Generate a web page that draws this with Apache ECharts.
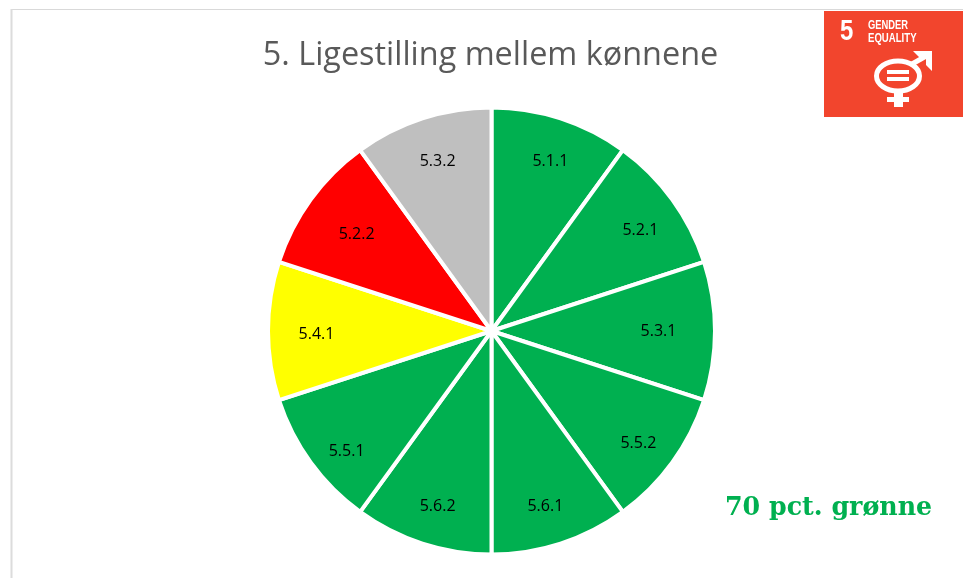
<!DOCTYPE html>
<html><head><meta charset="utf-8">
<style>html,body{margin:0;padding:0;background:#fff}#c{width:963px;height:578px}</style>
<script src="https://cdn.jsdelivr.net/npm/echarts@6/dist/echarts.min.js"></script>
</head><body><div id="c"></div>
<script>
const titleText = '5. Ligestilling mellem kønnene';
const noteText = '70 pct. grønne';
const categories = ['5.1.1','5.2.1','5.3.1','5.5.2','5.6.1','5.6.2','5.5.1','5.4.1','5.2.2','5.3.2'];
const values = [1,1,1,1,1,1,1,1,1,1];
const statuses = ['g','g','g','g','g','g','g','y','r','n'];
const statusColors = {g:'#00B050',y:'#FFFF00',r:'#FF0000',n:'#BFBFBF'};
const labelShift = {'5.1.1':[2,5],'5.2.1':[0,8],'5.3.1':[-17,0],'5.5.2':[-2,4],'5.6.1':[-3,0],'5.6.2':[3,0],'5.5.1':[4,12],'5.4.1':[9,3],'5.2.2':[14,12],'5.3.2':[3,5]};
const center = [491.5,331];
const chart = echarts.init(document.getElementById('c'),null,{renderer:'canvas'});
const white = '#fff', red = '#F2452D';
chart.setOption({
  animation:false,
  title:{text:titleText,left:485.5,top:35,textAlign:'center',
    textStyle:{fontFamily:'Open Sans',fontWeight:'normal',fontSize:32.4,color:'#595959'}},
  series:[
    {type:'pie',center,radius:[0,223.5],startAngle:90,silent:true,label:{show:false},labelLine:{show:false},
     itemStyle:{borderColor:'#fff',borderWidth:4},
     data:categories.map((n,i)=>({name:n,value:values[i],itemStyle:{color:statusColors[statuses[i]]}}))},
    {type:'pie',center,radius:[139,223],startAngle:90,silent:true,labelLine:{show:false},
     label:{show:true,position:'inside',formatter:'{b}',fontFamily:'Open Sans',fontSize:16,color:'#000'},
     itemStyle:{color:'transparent'},
     data:categories.map((n,i)=>({name:n,value:values[i],label:labelShift[n]?{offset:labelShift[n]}:{}}))}
  ],
  graphic:[
    {type:'rect',silent:true,shape:{x:11,y:9,width:960,height:1},style:{fill:'#d9d9d9'}},
    {type:'rect',silent:true,shape:{x:10.5,y:9,width:2,height:569},style:{fill:'#dcdcdc'}},
    {type:'text',silent:true,x:725,y:496,style:{text:noteText,font:'bold 25.3px "DejaVu Serif"',fill:'#00B050'}},
    {type:'rect',silent:true,shape:{x:824,y:11,width:139,height:106},style:{fill:red}},
    {type:'text',silent:true,x:840,y:17,scaleX:0.8,style:{text:'5',font:'bold 30px "Liberation Sans"',fill:white}},
    {type:'text',silent:true,x:868,y:20,scaleX:0.78,style:{text:'GENDER',font:'bold 12px "Liberation Sans"',fill:white}},
    {type:'text',silent:true,x:868,y:32.5,scaleX:0.8,style:{text:'EQUALITY',font:'bold 12px "Liberation Sans"',fill:white}},
    {type:'ellipse',silent:true,shape:{cx:898,cy:76,rx:21.5,ry:15},style:{fill:'none',stroke:white,lineWidth:5}},
    {type:'rect',silent:true,shape:{x:887,y:70,width:22,height:4},style:{fill:white}},
    {type:'rect',silent:true,shape:{x:887,y:77,width:22,height:4},style:{fill:white}},
    {type:'rect',silent:true,shape:{x:894,y:92,width:9,height:15},style:{fill:white}},
    {type:'rect',silent:true,shape:{x:887,y:97,width:22,height:5},style:{fill:white}},
    {type:'line',silent:true,shape:{x1:912,y1:64,x2:928,y2:55},style:{stroke:white,lineWidth:5}},
    {type:'polygon',silent:true,shape:{points:[[913,51],[932,51],[932,71],[926,65],[926,57],[919,57]]},style:{fill:white}}
  ]
});
</script></body></html>
